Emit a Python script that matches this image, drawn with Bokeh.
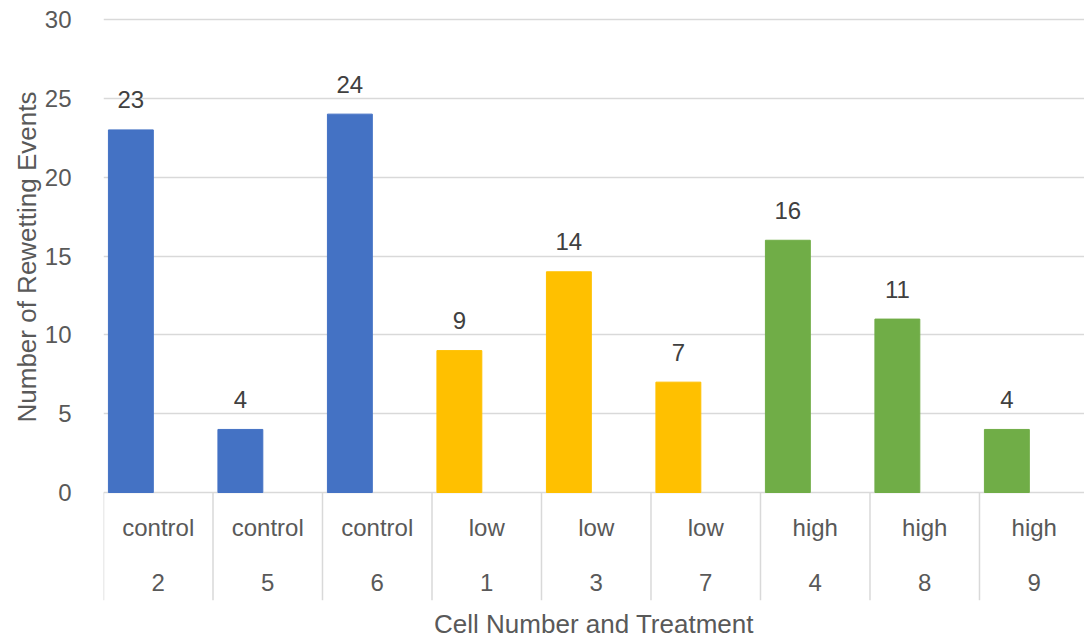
import numpy as np
from bokeh.plotting import figure
from bokeh.models import ColumnDataSource, FixedTicker, Range1d, Title
from bokeh.core.properties import value
from bokeh.embed import file_html
from bokeh.resources import INLINE

# Rewetting events per cell, grouped by treatment
cells = ["2", "5", "6", "1", "3", "7", "4", "8", "9"]
treatments = ["control", "control", "control", "low", "low", "low", "high", "high", "high"]
events = [23, 4, 24, 9, 14, 7, 16, 11, 4]
y_ticks = [0, 5, 10, 15, 20, 25, 30]

treatment_colors = {"control": "#4472C4", "low": "#FFC000", "high": "#70AD47"}

FONT = "Liberation Sans, Arial"
SIZE = "24px"
TITLE_SIZE = "26px"
LABEL_COLOR = "#595959"
GRID_COLOR = "#D9D9D9"

n = len(cells)
idx = np.arange(n)
bar_x = idx + 0.25          # bars sit in the left part of each category cell
center_x = idx + 0.5        # category labels are centred in the cell

src = ColumnDataSource(dict(
    x=bar_x,
    cx=center_x,
    top=events,
    label=[str(v) for v in events],
    treatment=treatments,
    cell=cells,
    color=[treatment_colors[t] for t in treatments],
))

# the frame reaches below zero to hold the two-row category table
y_bottom = -6.85
p = figure(width=1084, height=641, output_backend="svg", toolbar_location=None,
           x_range=Range1d(0, 8.959), y_range=Range1d(y_bottom, 30.7),
           min_border_left=103, min_border_right=0, min_border_top=8,
           min_border_bottom=41)
p.outline_line_color = None
p.background_fill_color = "white"

# gridlines
p.xgrid.visible = False
p.ygrid.ticker = FixedTicker(ticks=y_ticks)
p.ygrid.grid_line_color = GRID_COLOR
p.ygrid.grid_line_width = 1.5

# bars
p.vbar(x="x", top="top", bottom=0, width=0.41, source=src,
       fill_color="color", line_color="color")

# value labels above bars
p.text(x="x", y="top", text="label", source=src, y_offset=-30,
       text_align="center", text_baseline="alphabetic",
       text_font=value(FONT), text_font_size=SIZE, text_color="#404040")

# category table separators
bounds = np.arange(n + 1)
p.segment(x0=bounds, x1=bounds, y0=[0] * (n + 1), y1=[y_bottom] * (n + 1),
          line_color=GRID_COLOR, line_width=1.5)

# two-row category labels
p.text(x="cx", y=-2.2, text="treatment", source=src,
       text_align="center", text_baseline="alphabetic",
       text_font=value(FONT), text_font_size=SIZE, text_color=LABEL_COLOR)
p.text(x="cx", y=-5.7, text="cell", source=src,
       text_align="center", text_baseline="alphabetic",
       text_font=value(FONT), text_font_size=SIZE, text_color=LABEL_COLOR)

# y axis
yax = p.yaxis[0]
yax.ticker = FixedTicker(ticks=y_ticks)
yax.axis_line_color = None
yax.major_tick_line_color = None
yax.minor_tick_line_color = None
yax.major_label_standoff = 26
yax.major_label_text_font = FONT
yax.major_label_text_font_size = SIZE
yax.major_label_text_color = LABEL_COLOR

# y axis title, kept centred on the 0-30 value span
p.add_layout(Title(text="Number of Rewetting Events", align="left", offset=178,
                   standoff=0, text_font=FONT, text_font_size=TITLE_SIZE,
                   text_font_style="normal", text_color=LABEL_COLOR), "left")

# x axis carries only its title
xax = p.xaxis[0]
xax.ticker = FixedTicker(ticks=[])
xax.axis_line_color = None
xax.major_tick_line_color = None
xax.minor_tick_line_color = None
xax.axis_label = "Cell Number and Treatment"
xax.axis_label_standoff = 8
xax.axis_label_text_font = FONT
xax.axis_label_text_font_size = TITLE_SIZE
xax.axis_label_text_font_style = "normal"
xax.axis_label_text_color = LABEL_COLOR

open("out.html", "w").write(file_html(p, INLINE))
